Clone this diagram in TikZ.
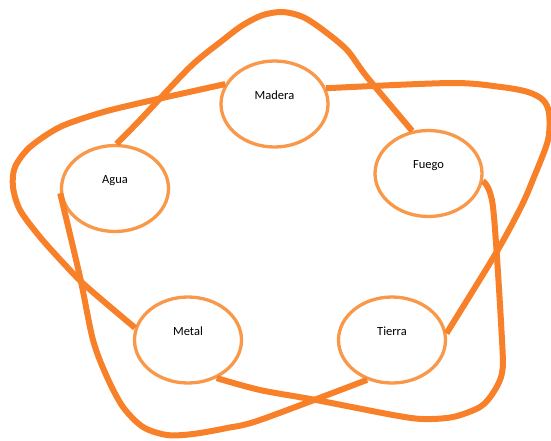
\documentclass[tikz,border=0pt]{standalone}
\usepackage{fontspec}
\setmainfont{Carlito}
\usetikzlibrary{shapes.geometric}
\definecolor{ringcol}{RGB}{248,152,72}
\definecolor{loopcol}{RGB}{247,128,40}
\begin{document}
\begin{tikzpicture}[x=1pt,y=-1pt,
  elem/.style={ellipse, draw=ringcol, line width=3.3pt, minimum width=107pt, minimum height=86pt,
    inner sep=0pt, font=\fontsize{12.5}{14}\selectfont, text=black, text height=8pt, text depth=18pt},
  band/.style={draw=loopcol, line width=6pt, line join=round}]
\useasboundingbox (0,0) rectangle (551,440);
\node[elem] (madera) at (274.5,104) {Madera};
\node[elem] (agua) at (115,188.5) {Agua};
\node[elem] (fuego) at (428.5,173.5) {Fuego};
\node[elem] (metal) at (188,340) {Metal};
\node[elem] (tierra) at (392,340) {Tierra};
% Agua -> Fuego over Madera
\draw[band] plot[smooth, tension=0.5] coordinates {(agua.88) (140,120) (190,67) (223,40) (243,25) (263,15) (283,12) (303,17) (323,30) (347,50) (367,77) (fuego.111)};
% Fuego -> Metal around Tierra
\draw[band] plot[smooth, tension=0.5] coordinates {(fuego.-8) (493,207) (502,340) (502,373) (493,393) (480,407) (453,417) (423,419) (393,415) (316,400) (260,390) (metal.-53)};
% Metal -> Madera around Agua
\draw[band] plot[smooth, tension=0.5] coordinates {(metal.167) (87,287) (67,267) (40,237) (20,210) (13,187) (15,167) (30,147) (60,127) (100,113) (140,103) (madera.158)};
% Madera -> Tierra around Fuego
\draw[band] plot[smooth, tension=0.5] coordinates {(madera.17) (451,83) (501,87) (528,92) (543,100) (549,113) (548,140) (534,177) (521,207) (496,253) (tierra.7)};
% Tierra -> Agua around Metal
\draw[band] plot[smooth, tension=0.5] coordinates {(tierra.238) (260,420) (227,428) (193,434) (167,435) (143,427) (123,407) (107,377) (93,340) (80,277) (agua.185)};
\end{tikzpicture}
\end{document}
